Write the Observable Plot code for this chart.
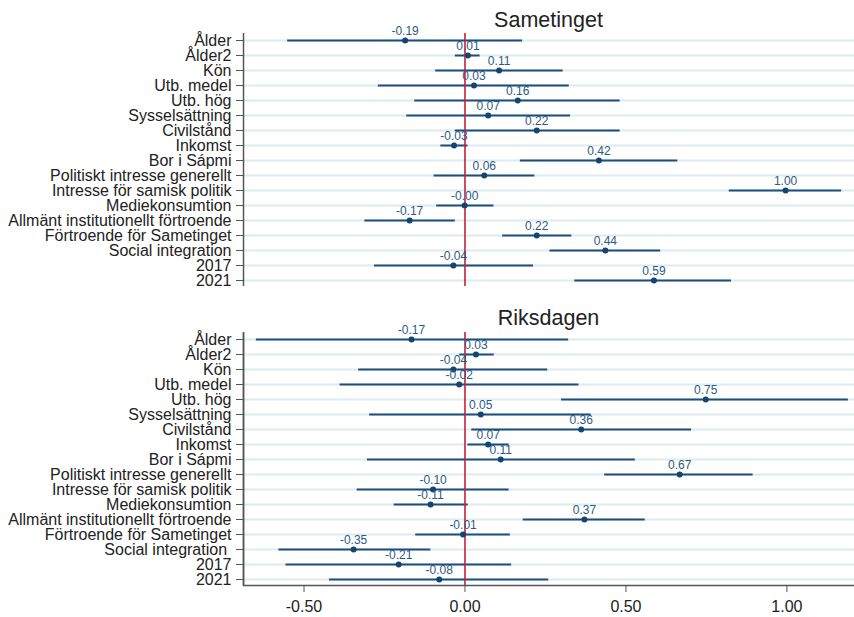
<!DOCTYPE html>
<html>
<head>
<meta charset="utf-8">
<script src="https://cdn.jsdelivr.net/npm/d3@7"></script>
<script src="https://cdn.jsdelivr.net/npm/@observablehq/plot@0.6"></script>
<style>
  html, body { margin: 0; padding: 0; background: #fff; }
  #wrap { position: relative; width: 854px; height: 617px; font-family: "Liberation Sans", Arial, sans-serif; }
  .ttl { position: absolute; left: 243px; width: 611px; text-align: center; font-size: 21.5px; color: #222; }
  .panel { position: absolute; left: 0; }
</style>
</head>
<body>
<div id="wrap">
  <div class="panel" id="top" style="top:0px"></div>
  <div class="panel" id="bottom" style="top:300px"></div>
  <div class="ttl" style="top:8px">Sametinget</div>
  <div class="ttl" style="top:306px">Riksdagen</div>
</div>
<script>
const categories = [
  "Ålder", "Ålder2", "Kön", "Utb. medel", "Utb. hög", "Sysselsättning", "Civilstånd",
  "Inkomst", "Bor i Sápmi", "Politiskt intresse generellt", "Intresse för samisk politik",
  "Mediekonsumtion", "Allmänt institutionellt förtroende", "Förtroende för Sametinget",
  "Social integration", "2017", "2021"
];
const categoriesRiksdagen = categories.map(c => c === "Social integration" ? "Social integration\u00a0" : c);

// Sametinget
const sameEst = [-0.186, 0.009, 0.106, 0.028, 0.164, 0.072, 0.223, -0.034, 0.416, 0.060, 0.996, -0.001, -0.172, 0.223, 0.436, -0.036, 0.587];
const sameLo  = [-0.551, -0.030, -0.091, -0.269, -0.156, -0.181, -0.030, -0.075, 0.172, -0.096, 0.821, -0.088, -0.311, 0.117, 0.264, -0.281, 0.341];
const sameHi  = [0.179, 0.047, 0.305, 0.324, 0.482, 0.328, 0.482, 0.009, 0.661, 0.217, 1.170, 0.090, -0.030, 0.332, 0.608, 0.213, 0.828];

// Riksdagen
const riksEst = [-0.166, 0.034, -0.036, -0.018, 0.748, 0.049, 0.361, 0.072, 0.111, 0.667, -0.099, -0.107, 0.371, -0.006, -0.346, -0.206, -0.080];
const riksLo  = [-0.648, -0.016, -0.330, -0.388, 0.300, -0.296, 0.021, 0.009, -0.303, 0.434, -0.335, -0.220, 0.181, -0.153, -0.578, -0.556, -0.421];
const riksHi  = [0.322, 0.091, 0.257, 0.354, 1.191, 0.392, 0.704, 0.137, 0.529, 0.895, 0.137, 0.010, 0.560, 0.141, -0.106, 0.145, 0.260];

const xTicks = [-0.5, 0, 0.5, 1.0];
const xDomain = [-0.688, 1.21];

const lineColor = "#1c4f7c";
const dotColor = "#154470";
const labelColor = "#2b5a86";
const gridColor = "#dfeaed";
const zeroColor = "#c8203a";
const axisColor = "#555";

function panel(cats, est, lo, hi, withX) {
  const rows = cats.map((c, i) => ({cat: c, est: est[i], lo: lo[i], hi: hi[i], label: est[i].toFixed(2)}));
  const W = 854, H = withX ? 317 : 300;
  const mL = 243, mR = 0, mT = withX ? 32 : 33, mB = withX ? 32 : 14;
  const fw = W - mL - mR, fh = H - mT - mB;
  const marks = [
    Plot.ruleY(rows, {y: "cat", stroke: gridColor, strokeWidth: 2}),
    Plot.ruleX([xDomain[0]], {stroke: axisColor, strokeWidth: 1.5}),
    Plot.ruleY(rows, {y: "cat", x1: "lo", x2: "hi", stroke: lineColor, strokeWidth: 2}),
    Plot.ruleX([0], {stroke: zeroColor, strokeWidth: 1.6}),
    Plot.dot(rows, {x: "est", y: "cat", r: 3, fill: dotColor, stroke: "none"}),
    Plot.text(rows, {x: "est", y: "cat", text: "label", dy: -9, fill: labelColor, fontSize: 12}),
    Plot.axisY({tickSize: 7, tickPadding: 5, fontSize: 16, color: "#222", stroke: axisColor, label: null})
  ];
  if (withX) {
    // left + bottom sides of the frame only
    marks.push(Plot.frame({stroke: axisColor, strokeWidth: 1.5, strokeDasharray: `0,${fw + fh},${fw + fh}`}));
    marks.push(Plot.axisX({ticks: xTicks, tickFormat: d => d.toFixed(2), tickSize: 7, tickPadding: 8, fontSize: 16, color: "#222", stroke: axisColor, label: null}));
  }
  return Plot.plot({
    width: W,
    height: H,
    marginLeft: mL,
    marginRight: mR,
    marginTop: mT,
    marginBottom: mB,
    style: {fontFamily: "'Liberation Sans', Arial, sans-serif", background: "transparent", overflow: "visible"},
    x: {domain: xDomain, axis: null},
    y: {type: "point", domain: cats, padding: 0.25, axis: null},
    marks
  });
}

document.getElementById("top").append(panel(categories, sameEst, sameLo, sameHi, false));
document.getElementById("bottom").append(panel(categoriesRiksdagen, riksEst, riksLo, riksHi, true));
</script>
</body>
</html>
